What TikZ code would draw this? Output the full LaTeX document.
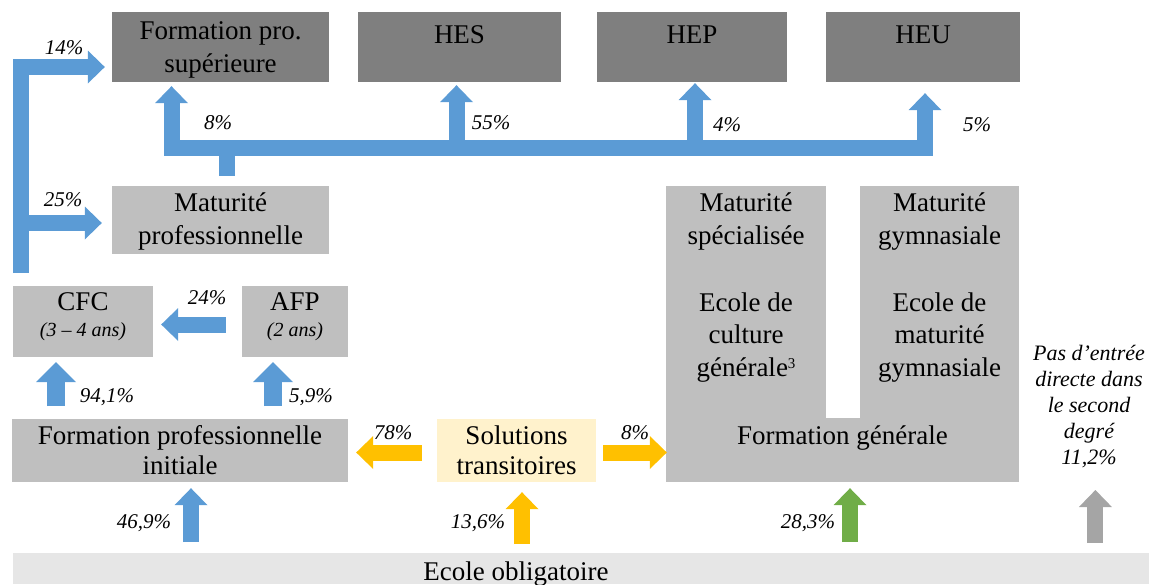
\documentclass[tikz,border=0pt]{standalone}
\usepackage{fontspec}
\setmainfont{Liberation Serif}
\usetikzlibrary{arrows.meta,calc}
\definecolor{boxdark}{HTML}{7F7F7F}
\definecolor{boxlight}{HTML}{BFBFBF}
\definecolor{soly}{HTML}{FFF2CC}
\definecolor{eog}{HTML}{E6E6E6}
\definecolor{blueA}{HTML}{5B9BD5}
\definecolor{goldA}{HTML}{FFC000}
\definecolor{greenA}{HTML}{70AD47}
\definecolor{grayA}{HTML}{A5A5A5}
\newcommand\bigf{\fontsize{27}{30}\selectfont}
\newcommand\colf{\fontsize{27}{32.5}\selectfont}
\newcommand\pcf{\fontsize{21}{26}\selectfont\itshape}
\newcommand\pdef{\fontsize{22}{26}\selectfont\itshape}
\newcommand\smallit{\fontsize{20}{24}\selectfont\itshape}
\newcommand\supthree{\raisebox{8pt}{\fontsize{15}{15}\selectfont 3}}
\begin{document}
\begin{tikzpicture}[x=1pt,y=-1pt,
  box/.style={rectangle,inner sep=0pt,align=center,font=\bigf,text=black},
  dark/.style={box,fill=boxdark},
  light/.style={box,fill=boxlight},
  coltext/.style={box,font=\colf},
  pct/.style={inner sep=0pt,font=\pcf,align=center},
  blk/.style={line width=16pt,line join=miter},
  arr/.style={blk,-{Triangle[length=17pt,width=33pt,line width=0pt]}},
  bigarr/.style={line width=18pt,line join=miter,-{Triangle[length=20pt,width=40pt,line width=0pt]}},
]
\useasboundingbox (0,0) rectangle (1149,584);

% ---- boxes
\node[dark,minimum width=217pt,minimum height=70pt] (fps) at (220.5,47) {\rule{0pt}{24.5pt}Formation pro.\\[3pt]supérieure};
\node[dark,minimum width=203pt,minimum height=70pt] (hes) at (459.5,47) {\rule{0pt}{22pt}HES\\\mbox{}};
\node[dark,minimum width=190pt,minimum height=70pt] (hep) at (692,47) {\rule{0pt}{22pt}HEP\\\mbox{}};
\node[dark,minimum width=194pt,minimum height=70pt] (heu) at (923,47) {\rule{0pt}{22pt}HEU\\\mbox{}};
\node[light,minimum width=217pt,minimum height=68pt] (mp) at (220.5,220) {\rule{0pt}{22pt}Maturité\\[3pt]professionnelle};
\node[light,minimum width=140pt,minimum height=71pt] (cfc) at (83,321.5) {CFC\\[-4pt]{\smallit (3 – 4 ans)}\rule[-14pt]{0pt}{14pt}};
\node[light,minimum width=106pt,minimum height=71pt] (afp) at (295,321.5) {AFP\\[-4pt]{\smallit (2 ans)}\rule[-14pt]{0pt}{14pt}};
\node[light,minimum width=336pt,minimum height=63pt] (fpi) at (180,450.5) {Formation professionnelle\\initiale};
\node[box,fill=soly,minimum width=159pt,minimum height=63pt] (sol) at (516.5,450.5) {Solutions\\transitoires};

% formation generale block
\node[light,minimum width=160pt,minimum height=296pt] (colL) at (746,334) {};
\node[light,minimum width=159pt,minimum height=296pt] (colR) at (939.5,334) {};
\node[light,minimum width=353pt,minimum height=64pt] (fg) at (842.5,450) {Formation générale\\\mbox{}};
\node[coltext] (ms) at (746,218) {\rule{0pt}{26pt}Maturité\\spécialisée};
\node[coltext] (ecg) at (746,334) {\rule{0pt}{25pt}Ecole de\\culture\\générale\supthree};
\node[coltext] (mg) at (939.5,218) {\rule{0pt}{26pt}Maturité\\gymnasiale};
\node[coltext] (emg) at (939.5,334) {\rule{0pt}{25pt}Ecole de\\maturité\\gymnasiale};

% ecole obligatoire
\node[box,fill=eog,minimum width=1136pt,minimum height=31pt,anchor=north west] (eo) at (13,553) {};
\node[box,anchor=base] (eot) at (516,580) {Ecole obligatoire};

% side note
\node[pct,font=\pdef] (pde) at (1089,407) {Pas d’entrée\\directe dans\\le second\\degré\\11,2\%};

% ---- blue connectors
\coordinate (barB) at (20.5,273);
\draw[arr,draw=blueA] (barB) |- ($(fps.west)+(-7,20)$);
\draw[arr,draw=blueA] ($(barB |- mp.west)+(0,3)$) -- ($(mp.west)+(-10,3)$);

\coordinate (busW) at (171.5,148);
\coordinate (busE) at (925,148);
\coordinate (pHES) at (456.5,148);
\coordinate (pHEP) at (695,148);
\coordinate (stubB) at ($(mp.north)+(6,-10)$);
\draw[blk,draw=blueA] (stubB) -- (stubB |- busW);
\draw[arr,draw=blueA] (pHES) -- (busW) -- ($(busW |- fps.south)+(0,4)$);
\draw[arr,draw=blueA] (pHES) -- (busE) -- ($(busE |- heu.south)+(0,11)$);
\draw[arr,draw=blueA] (pHES) -- ($(pHES |- hes.south)+(0,3)$);
\draw[arr,draw=blueA] (pHEP) -- ($(pHEP |- hep.south)+(0,1)$);

\draw[arr,draw=blueA] ($(afp.west)+(-16,3)$) -- ($(cfc.east)+(8,3)$);
\draw[bigarr,draw=blueA] ($(cfc.south)+(-27,49)$) -- ($(cfc.south)+(-27,5)$);
\draw[bigarr,draw=blueA] ($(afp.south)+(-22,49)$) -- ($(afp.south)+(-22,5)$);
\draw[arr,draw=blueA] ($(fpi.south)+(11,60)$) -- ($(fpi.south)+(11,6)$);

% ---- gold connectors
\draw[arr,draw=goldA] ($(sol.west)+(-15,2)$) -- ($(fpi.east)+(8,2)$);
\draw[arr,draw=goldA] ($(sol.east)+(7,2)$) -- ($(fg.west)+(1,2.5)$);
\draw[arr,draw=goldA] ($(sol.south)+(5.5,62)$) -- ($(sol.south)+(5.5,10)$);

% ---- green and gray
\draw[arr,draw=greenA] ($(fg.south)+(7.5,60)$) -- ($(fg.south)+(7.5,6)$);
\draw[arr,draw=grayA] ($(eo.north east)+(-54,-10)$) -- ($(eo.north east)+(-54,-63)$);

% ---- percentages
\node[pct] (l14) at (64,48) {14\%};
\node[pct] (l25) at (63,200) {25\%};
\node[pct] (l8a) at (218,123) {8\%};
\node[pct] (l55) at (491,123) {55\%};
\node[pct] (l4) at (727,125) {4\%};
\node[pct] (l5) at (977,125) {5\%};
\node[pct] (l24) at (207,298) {24\%};
\node[pct] (l941) at (107,397) {94,1\%};
\node[pct] (l59) at (311,397) {5,9\%};
\node[pct] (l78) at (393,433) {78\%};
\node[pct] (l8b) at (635,433) {8\%};
\node[pct] (l469) at (144,523) {46,9\%};
\node[pct] (l136) at (478,523) {13,6\%};
\node[pct] (l283) at (808,523) {28,3\%};
\end{tikzpicture}
\end{document}
